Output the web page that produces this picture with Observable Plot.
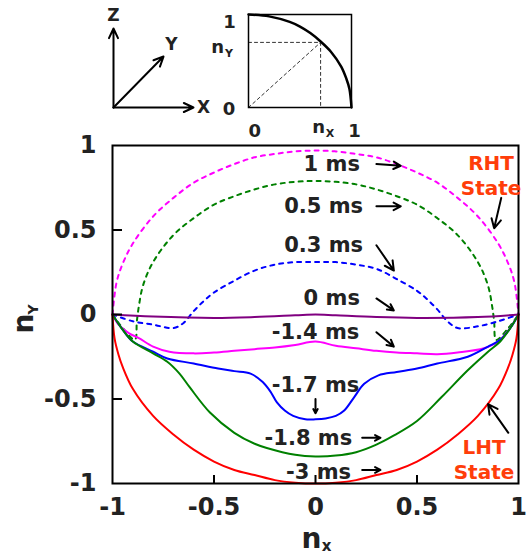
<!DOCTYPE html>
<html><head><meta charset="utf-8">
<script src="https://cdn.jsdelivr.net/npm/d3@7"></script>
<script src="https://cdn.jsdelivr.net/npm/@observablehq/plot@0.6"></script>
<style>
body{margin:0;background:#fff}
#wrap{position:relative;width:529px;height:557px;font-family:"DejaVu Sans",Verdana,sans-serif}
#wrap svg{position:absolute;background:transparent;overflow:visible}
</style>
</head><body><div id="wrap"></div><script>
// ---------- data ----------
const axisTicks = [-1, -0.5, 0, 0.5, 1];

const x_1ms = [-1,-0.98,-0.95,-0.9,-0.8,-0.7,-0.6,-0.5,-0.4,-0.3,-0.2,-0.1,0,0.1,0.2,0.3,0.4,0.5,0.6,0.7,0.8,0.9,0.95,0.98,1];
const y_1ms = [0,0.19,0.30,0.42,0.58,0.69,0.78,0.84,0.89,0.93,0.95,0.965,0.97,0.965,0.95,0.93,0.89,0.84,0.78,0.69,0.58,0.42,0.30,0.19,0];

const x_05ms = [-1,-0.95,-0.89,-0.88,-0.87,-0.85,-0.8,-0.7,-0.6,-0.5,-0.4,-0.3,-0.2,-0.1,0,0.1,0.2,0.3,0.4,0.5,0.6,0.7,0.8,0.85,0.87,0.88,0.89,0.95,1];
const y_05ms = [0,-0.08,-0.15,-0.04,0.05,0.17,0.31,0.47,0.57,0.65,0.70,0.74,0.77,0.785,0.79,0.785,0.77,0.74,0.70,0.65,0.57,0.47,0.31,0.17,0.05,-0.04,-0.15,-0.08,0];

const x_03ms = [-1,-0.9,-0.8,-0.7,-0.65,-0.6,-0.55,-0.5,-0.4,-0.3,-0.2,-0.1,0,0.1,0.2,0.3,0.4,0.5,0.55,0.6,0.65,0.7,0.8,0.9,1];
const y_03ms = [0,-0.04,-0.06,-0.08,-0.05,0.02,0.08,0.13,0.20,0.26,0.295,0.31,0.31,0.31,0.295,0.27,0.21,0.14,0.09,0.03,-0.04,-0.08,-0.07,-0.04,0];

const x_0ms = [-1,-0.8,-0.5,-0.3,-0.1,0,0.1,0.3,0.5,0.8,1];
const y_0ms = [0,-0.012,-0.02,-0.015,-0.005,0,-0.005,-0.015,-0.02,-0.015,0];

const x_m14 = [-1,-0.97,-0.92,-0.87,-0.8,-0.72,-0.6,-0.5,-0.4,-0.3,-0.2,-0.1,0,0.1,0.2,0.3,0.4,0.5,0.6,0.7,0.83,0.9,0.95,1];
const y_m14 = [0,-0.06,-0.11,-0.14,-0.19,-0.22,-0.23,-0.225,-0.215,-0.205,-0.195,-0.18,-0.16,-0.185,-0.2,-0.215,-0.225,-0.23,-0.235,-0.225,-0.20,-0.16,-0.095,0];

const x_m17 = [-1,-0.95,-0.9,-0.8,-0.73,-0.6,-0.48,-0.4,-0.32,-0.26,-0.22,-0.19,-0.15,-0.11,-0.05,0,0.05,0.1,0.14,0.19,0.24,0.31,0.4,0.5,0.6,0.75,0.85,0.91,0.96,1];
const y_m17 = [0,-0.09,-0.16,-0.22,-0.26,-0.29,-0.32,-0.335,-0.35,-0.40,-0.46,-0.52,-0.57,-0.60,-0.62,-0.62,-0.615,-0.60,-0.57,-0.49,-0.41,-0.36,-0.34,-0.32,-0.29,-0.25,-0.19,-0.15,-0.08,0];

const x_m18 = [-1,-0.95,-0.9,-0.8,-0.73,-0.67,-0.62,-0.52,-0.4,-0.3,-0.24,-0.1,0,0.1,0.2,0.3,0.38,0.5,0.62,0.75,0.85,0.91,0.96,1];
const y_m18 = [0,-0.09,-0.16,-0.23,-0.28,-0.35,-0.43,-0.58,-0.70,-0.765,-0.79,-0.83,-0.84,-0.835,-0.815,-0.77,-0.72,-0.63,-0.49,-0.33,-0.22,-0.16,-0.08,0];

const x_m3 = [-1,-0.99,-0.97,-0.95,-0.9,-0.8,-0.7,-0.6,-0.5,-0.4,-0.3,-0.2,-0.1,0,0.1,0.2,0.3,0.4,0.5,0.6,0.7,0.8,0.9,0.95,0.97,0.99,1];
const y_m3 = [0,-0.14,-0.24,-0.31,-0.44,-0.6,-0.71,-0.8,-0.87,-0.92,-0.95,-0.98,-0.995,-1,-0.995,-0.98,-0.95,-0.92,-0.87,-0.8,-0.71,-0.6,-0.44,-0.31,-0.24,-0.14,0];

const seriesNames = ["1 ms","0.5 ms","0.3 ms","0 ms","-1.4 ms","-1.7 ms","-1.8 ms","-3 ms"];
const seriesX = [x_1ms,x_05ms,x_03ms,x_0ms,x_m14,x_m17,x_m18,x_m3];
const seriesY = [y_1ms,y_05ms,y_03ms,y_0ms,y_m14,y_m17,y_m18,y_m3];

// label anchors (data units) and arrows
const labelText = ["1 ms","0.5 ms","0.3 ms","0 ms","-1.4 ms","-1.7 ms","-1.8 ms","-3 ms"];
const labelX = [0.08,0.04,0.04,0.08,0,0,-0.035,0.015];
const labelY = [0.89,0.64,0.41,0.095,-0.105,-0.42,-0.73,-0.935];
const arrowX1 = [0.30,0.30,0.30,0.30,0.30,0,0.23,0.23,0.915,0.95];
const arrowY1 = [0.89,0.64,0.41,0.095,-0.105,-0.50,-0.73,-0.92,0.69,-0.70];
const arrowX2 = [0.42,0.42,0.386,0.386,0.386,0,0.32,0.32,0.88,0.85];
const arrowY2 = [0.88,0.64,0.26,0.024,-0.19,-0.585,-0.73,-0.92,0.51,-0.53];
const stateText = ["RHT","State","LHT","State"];
const stateX = [0.865,0.865,0.83,0.83];
const stateY = [0.89,0.745,-0.79,-0.935];

// inset quarter circle
const qx = [0,0.2,0.4,0.5,0.6,0.7,0.8,0.9,0.95,0.98,1];
const qy = [1,0.98,0.92,0.87,0.8,0.71,0.6,0.44,0.31,0.2,0];
const qPoint = [0.7, 0.7];

// ---------- styles ----------
const styles = {
  "1 ms":   {stroke:"#ff00ff", dash:"4,5"},
  "0.5 ms": {stroke:"#008000", dash:"4,5"},
  "0.3 ms": {stroke:"#0000ff", dash:"4,5"},
  "0 ms":   {stroke:"#800080", dash:null},
  "-1.4 ms":{stroke:"#ff00ff", dash:null},
  "-1.7 ms":{stroke:"#0000ff", dash:null},
  "-1.8 ms":{stroke:"#008000", dash:null},
  "-3 ms":  {stroke:"#ff0000", dash:null}
};
const FONT = "DejaVu Sans";
const INK = "#222";

const rowsOf = i => seriesX[i].map((x, j) => ({x, y: seriesY[i][j]}));
const labels = labelText.map((t,i)=>({t, x:labelX[i], y:labelY[i]}));
const arrows = arrowX1.map((x1,i)=>({x1, y1:arrowY1[i], x2:arrowX2[i], y2:arrowY2[i]}));
const states = stateText.map((t,i)=>({t, x:stateX[i], y:stateY[i]}));

const wrap = document.getElementById("wrap");

const main = Plot.plot({
  width: 529, height: 557,
  marginLeft: 112, marginRight: 11, marginTop: 145, marginBottom: 74,
  style: {fontFamily: FONT, background: "transparent", overflow: "visible"},
  x: {domain: [-1, 1]},
  y: {domain: [-1, 1]},
  marks: [
    ...seriesNames.map((n, i) => Plot.line(rowsOf(i), {
      x: "x", y: "y", curve: "catmull-rom",
      stroke: styles[n].stroke, strokeWidth: 2,
      strokeDasharray: styles[n].dash || undefined
    })),
    Plot.frame({stroke: "black", strokeWidth: 2}),
    Plot.axisX({ticks: axisTicks, tickSize: 0, tickPadding: 14, tickFormat: d => String(d),
      fontSize: 24, fontWeight: "bold", fill: INK, label: null}),
    Plot.axisX({ticks: axisTicks.slice(1, 4), tickSize: -8, tickFormat: () => "", strokeWidth: 2, label: null}),
    Plot.axisY({ticks: axisTicks, tickSize: 0, tickPadding: 16, tickFormat: d => String(d),
      fontSize: 24, fontWeight: "bold", fill: INK, label: null}),
    Plot.axisY({ticks: axisTicks.slice(1, 4), tickSize: -10, tickFormat: () => "", strokeWidth: 2, label: null}),
    Plot.text(labels, {x: "x", y: "y", text: "t", fontSize: 21, fontWeight: "bold", fill: INK, fontFamily: FONT}),
    Plot.text(states, {x: "x", y: "y", text: "t", fontSize: 20, fontWeight: "bold", fill: "#ff3d0a", fontFamily: FONT}),
    Plot.arrow(arrows, {x1: "x1", y1: "y1", x2: "x2", y2: "y2", stroke: "black", strokeWidth: 2, headLength: 8, headAngle: 55}),
    // axis titles
    Plot.text(["n"], {x: -0.02, y: -1.33, text: d => d, fontSize: 28, fontWeight: "bold", fill: INK, fontFamily: FONT}),
    Plot.text(["x"], {x: 0.055, y: -1.37, text: d => d, fontSize: 15, fontWeight: "bold", fill: INK, fontFamily: FONT}),
    Plot.text(["n"], {x: -1.436, y: -0.053, text: d => d, rotate: -90, fontSize: 28, fontWeight: "bold", fill: INK, fontFamily: FONT}),
    Plot.text(["Y"], {x: -1.39, y: 0.03, text: d => d, rotate: -90, fontSize: 14, fontWeight: "bold", fill: INK, fontFamily: FONT})
  ]
});
main.style.left = "0px"; main.style.top = "0px";
wrap.appendChild(main);

// axes diagram inset
const axesArrows = [
  {x1:0,y1:0,x2:0,y2:1},
  {x1:0,y1:0,x2:1,y2:0},
  {x1:0,y1:0,x2:0.625,y2:0.645}
];
const axesLabels = [{t:"Z",x:0,y:1.165},{t:"Y",x:0.725,y:0.80},{t:"X",x:1.125,y:0}];
const inset1 = Plot.plot({
  width: 120, height: 120,
  marginLeft: 13, marginRight: 27, marginTop: 28, marginBottom: 13,
  style: {fontFamily: FONT, background: "transparent", overflow: "visible"},
  x: {domain: [0, 1], axis: null}, y: {domain: [0, 1], axis: null},
  marks: [
    Plot.arrow(axesArrows, {x1:"x1",y1:"y1",x2:"x2",y2:"y2", stroke:"black", strokeWidth:2, headLength:8, headAngle:50}),
    Plot.text(axesLabels, {x:"x", y:"y", text:"t", fontSize:17, fontWeight:"bold", fill:INK, fontFamily:FONT})
  ]
});
inset1.style.left = "100px"; inset1.style.top = "0px";
wrap.appendChild(inset1);

// quarter-circle inset
const qRows = qx.map((x,i)=>({x, y:qy[i]}));
const guides = [
  [{x:0,y:qPoint[1]},{x:qPoint[0],y:qPoint[1]}],
  [{x:qPoint[0],y:qPoint[1]},{x:qPoint[0],y:0}],
  [{x:0,y:0},{x:qPoint[0],y:qPoint[1]}]
];
const inset2Labels = [
  {t:"1",x:-0.185,y:0.914,s:18},{t:"0",x:-0.19,y:-0.02,s:18},
  {t:"0",x:0.06,y:-0.25,s:18},{t:"1",x:1.03,y:-0.25,s:18},
  {t:"n",x:-0.30,y:0.645,s:18},{t:"Y",x:-0.19,y:0.585,s:11},
  {t:"n",x:0.68,y:-0.215,s:18},{t:"X",x:0.79,y:-0.28,s:11}
];
const inset2 = Plot.plot({
  width: 180, height: 140,
  marginLeft: 48, marginRight: 29, marginTop: 14, marginBottom: 33,
  style: {fontFamily: FONT, background: "transparent", overflow: "visible"},
  x: {domain: [0, 1], axis: null}, y: {domain: [0, 1], axis: null},
  marks: [
    ...guides.map(g => Plot.line(g, {x:"x", y:"y", stroke:"#333", strokeWidth:1, strokeDasharray:"3,3"})),
    Plot.line(qRows, {x:"x", y:"y", curve:"catmull-rom", stroke:"black", strokeWidth:2.5}),
    Plot.frame({stroke:"black", strokeWidth:1.5}),
    Plot.text(inset2Labels, {x:"x", y:"y", text:"t", fontSize:d=>d.s, fontWeight:"bold", fill:INK, fontFamily:FONT})
  ]
});
inset2.style.left = "200px"; inset2.style.top = "0px";
wrap.appendChild(inset2);
</script></body></html>
